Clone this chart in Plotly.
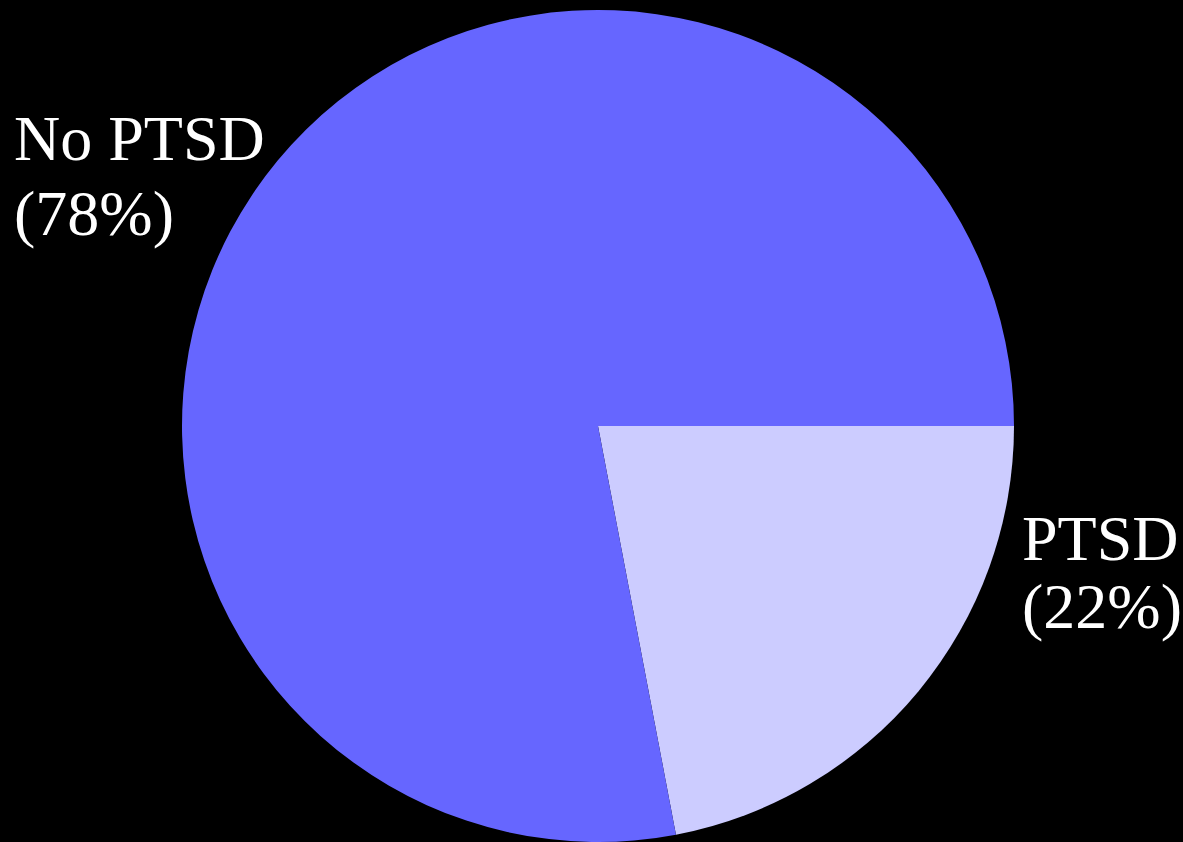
import plotly.graph_objects as go

labels = ["PTSD", "No PTSD"]
values = [22, 78]
colors = ["#CCCCFF", "#6666FF"]

W, H = 1183, 842

fig = go.Figure(go.Pie(
    labels=labels, values=values, sort=False, direction="clockwise", rotation=90,
    marker=dict(colors=colors, line=dict(color="#000000", width=0)),
    textinfo="none", hoverinfo="label+percent", showlegend=False,
    domain=dict(x=[0.011, 1.0], y=[0.0, 832 / 842]),
))

font = dict(family="Liberation Serif, Times New Roman, serif", size=64, color="white")

def ann(text, x, y):
    return dict(text=text, x=x / W, y=1 - y / H, xref="paper", yref="paper",
                xanchor="left", yanchor="middle", showarrow=False, font=font)

lbl_lines = [
    (labels[1], 12, 138),
    (f"({values[1]}%)", 12, 213),
    (labels[0], 1020, 538),
    (f"({values[0]}%)", 1020, 606),
]
fig.update_layout(
    width=W, height=H, paper_bgcolor="black", plot_bgcolor="black",
    margin=dict(l=0, r=0, t=0, b=0),
    annotations=[ann(t, x, y) for t, x, y in lbl_lines],
)
fig.write_html("out.html")
